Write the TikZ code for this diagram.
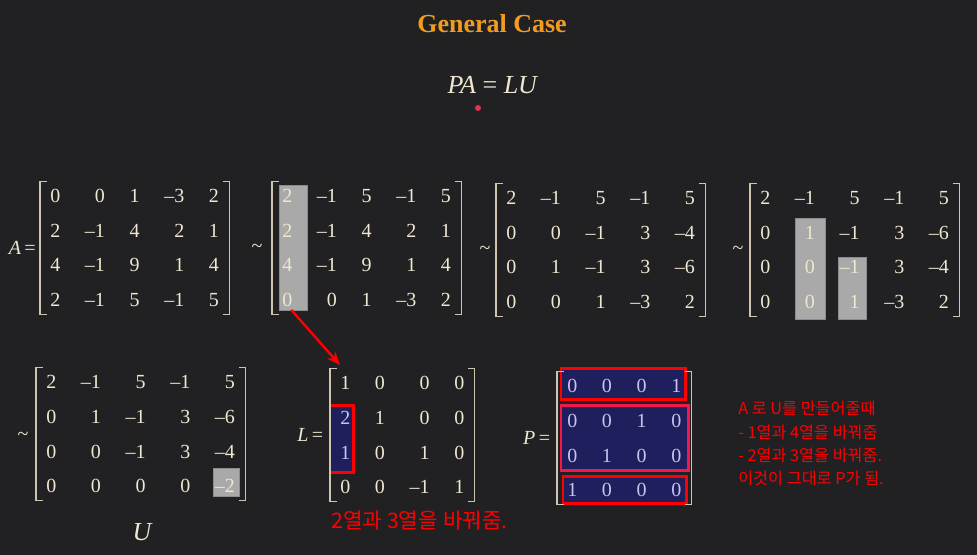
\documentclass[tikz,border=0pt]{standalone}
\usepackage{fontspec}
\setmainfont{Liberation Serif}
\newfontfamily\krfont{Noto Sans CJK KR}
\usetikzlibrary{matrix,positioning,arrows.meta}

\definecolor{bgcol}{HTML}{212123}
\definecolor{cream}{HTML}{EFE7CF}
\definecolor{brcol}{HTML}{CDC5B0}
\definecolor{lav}{HTML}{C5C5EE}
\definecolor{hlgray}{HTML}{A9A9A9}
\definecolor{hlgrayline}{HTML}{8C8C8C}
\definecolor{navy}{HTML}{1F1F5E}
\definecolor{boxred}{HTML}{FF0000}
\definecolor{boxpink}{HTML}{F5164B}
\definecolor{titleorange}{HTML}{F29B1E}
\definecolor{dotred}{HTML}{E8304E}

\pgfdeclarelayer{back}
\pgfsetlayers{back,main}

\tikzstyle{mat} = [matrix of nodes, anchor=west, inner xsep=7.5pt, inner ysep=5.6pt, column sep=18.5pt, row sep=16pt, nodes={anchor=base east, inner sep=0pt, text height=10pt, text depth=0pt, text=cream, font=\fontsize{15}{18}\selectfont}]
\tikzstyle{brline} = [draw=brcol, line width=1pt]
\tikzstyle{lbl} = [text=cream, inner sep=0pt, font=\fontsize{15}{18}\selectfont]
\tikzstyle{biglbl} = [text=cream, inner sep=0pt, font=\fontsize{19.5}{22}\selectfont]
\tikzstyle{note} = [text=boxred, inner sep=0pt, font=\krfont\fontsize{12.2}{17.5}\selectfont]
\tikzstyle{graybox} = [fill=hlgray, draw=hlgrayline, line width=0.75pt]
\tikzstyle{navybox} = [fill=navy, draw=boxred, line width=2.2pt]
\tikzstyle{redarrow} = [draw=boxred, line width=1.8pt, -{Stealth[length=10pt,width=8pt]}]

\newcommand{\matbrackets}[1]{%
\draw[brline] ([xshift=5pt]#1.north west) -- (#1.north west) -- (#1.south west) -- ([xshift=5pt]#1.south west);
\draw[brline] ([xshift=-5pt]#1.north east) -- (#1.north east) -- (#1.south east) -- ([xshift=-5pt]#1.south east);}

\begin{document}
\begin{tikzpicture}[x=0.75pt,y=-0.75pt]
\useasboundingbox (0,0) rectangle (977,555);
\begin{pgfonlayer}{back}
\fill[bgcol] (0,0) rectangle (977,555);
\end{pgfonlayer}

%title
\node[font=\bfseries\fontsize{19.5}{22}\selectfont, text=titleorange] (title) at (492,24) {General Case};
\node[biglbl] (plu) at (493,85) {\textit{PA} = \textit{LU}};
\fill[dotred] (478,108) circle (2.25pt);

%top row
\matrix (A) [mat] at (40,248) {
0 & 0 & 1 & –3 & 2 \\
2 & –1 & 4 & 2 & 1 \\
4 & –1 & 9 & 1 & 4 \\
2 & –1 & 5 & –1 & 5 \\
};
\matbrackets{A}
\node[lbl, left=3pt of A] (Aeq) {\textit{A}\,=};

\node[lbl] (t1) at (257,248) {\textasciitilde};
\matrix (B) [mat] at (272,248) {
2 & –1 & 5 & –1 & 5 \\
2 & –1 & 4 & 2 & 1 \\
4 & –1 & 9 & 1 & 4 \\
0 & 0 & 1 & –3 & 2 \\
};
\matbrackets{B}

\node[lbl] (t2) at (485,250) {\textasciitilde};
\matrix (C) [mat] at (496,250) {
2 & –1 & 5 & –1 & 5 \\
0 & 0 & –1 & 3 & –4 \\
0 & 1 & –1 & 3 & –6 \\
0 & 0 & 1 & –3 & 2 \\
};
\matbrackets{C}

\node[lbl] (t3) at (738,250) {\textasciitilde};
\matrix (D) [mat] at (750,250) {
2 & –1 & 5 & –1 & 5 \\
0 & 1 & –1 & 3 & –6 \\
0 & 0 & –1 & 3 & –4 \\
0 & 0 & 1 & –3 & 2 \\
};
\matbrackets{D}

%bottom row
\node[lbl] (t4) at (23,436) {\textasciitilde};
\matrix (U) [mat] at (36,434) {
2 & –1 & 5 & –1 & 5 \\
0 & 1 & –1 & 3 & –6 \\
0 & 0 & –1 & 3 & –4 \\
0 & 0 & 0 & 0 & –2 \\
};
\matbrackets{U}
\node[biglbl, font=\itshape\fontsize{19.5}{22}\selectfont] (Ulbl) at (142,532) {U};

\matrix (L) [mat] at (330,435) {
1 & 0 & 0 & 0 \\
|[text=lav]| 2 & 1 & 0 & 0 \\
|[text=lav]| 1 & 0 & 1 & 0 \\
0 & 0 & –1 & 1 \\
};
\matbrackets{L}
\node[lbl, left=5pt of L] (Leq) {\textit{L}\,=};

\matrix (P) [mat, nodes={text=lav}] at (557,438) {
0 & 0 & 0 & 1 \\
0 & 0 & 1 & 0 \\
0 & 1 & 0 & 0 \\
1 & 0 & 0 & 0 \\
};
\matbrackets{P}
\node[lbl, left=5pt of P] (Peq) {\textit{P}\,=};

%highlights
\begin{pgfonlayer}{back}
\filldraw[graybox] ([shift={(-3,-4)}]B-1-1.north west) rectangle ([shift={(15,4)}]B-4-1.south east);
\filldraw[graybox] ([shift={(-9,-7)}]D-2-2.north west) rectangle ([shift={(10,11)}]D-4-2.south east);
\filldraw[graybox] ([shift={(-1,-3)}]D-3-3.north west) rectangle ([shift={(7,11)}]D-4-3.south east);
\filldraw[graybox] ([shift={(-1,-11)}]U-4-5.north west) rectangle ([shift={(4,4)}]U-4-5.south east);
\filldraw[navybox] ([shift={(-10,-5)}]L-2-1.north west) rectangle ([shift={(3,13)}]L-3-1.south east);
\filldraw[navybox] ([shift={(-6,-11)}]P-1-1.north west) rectangle ([shift={(4,7)}]P-1-4.south east);
\filldraw[navybox, draw=boxpink] ([shift={(-6,-8)}]P-2-1.north west) rectangle ([shift={(7,8)}]P-3-4.south east);
\filldraw[navybox] ([shift={(-4,-7)}]P-4-1.north west) rectangle ([shift={(5,7)}]P-4-4.south east);
\end{pgfonlayer}

\draw[redarrow] ([shift={(4,3)}]B-4-1.south) -- ([shift={(0,-11)}]L-1-1.north west);

%notes
\node[note, font=\krfont\fontsize{16}{19}\selectfont, anchor=base west] (swap) at (331,528) {2열과 3열을 바꿔줌.};
\node[note, anchor=north west, align=left] (memo) at (738,401) {A 로 U를 만들어줄때\\- 1열과 4열을 바꿔줌\\- 2열과 3열을 바꿔줌.\\이것이 그대로 P가 됨.};
\end{tikzpicture}
\end{document}
